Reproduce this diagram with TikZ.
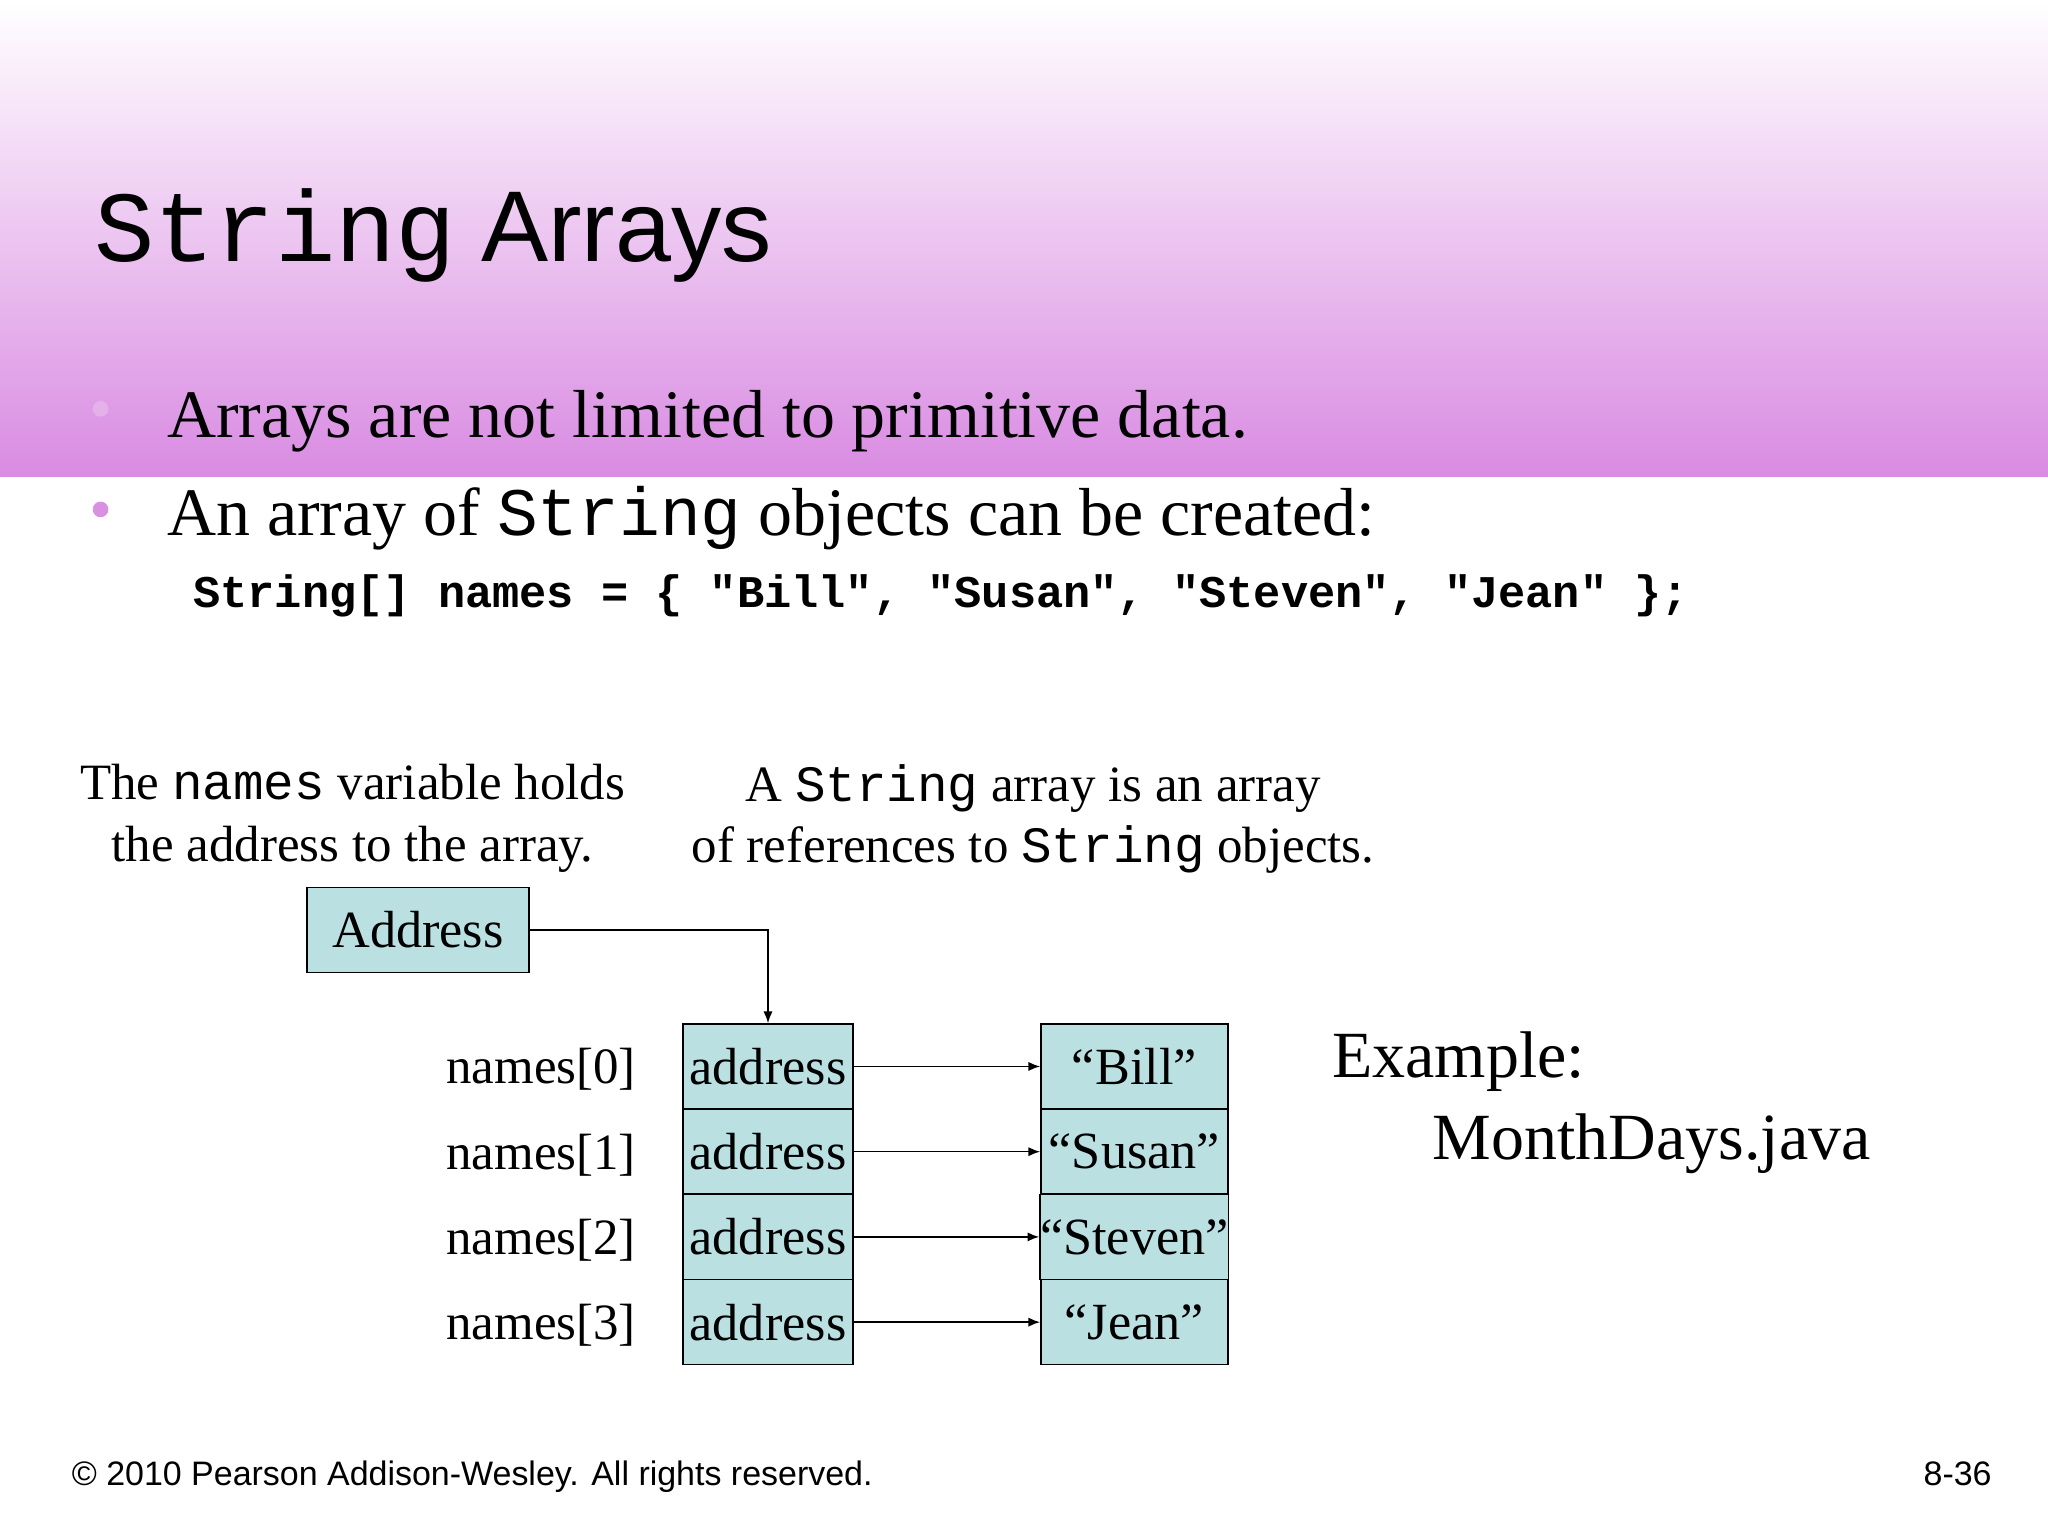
\documentclass[tikz,border=0pt]{standalone}
\usepackage{fontspec}
\setmainfont{Liberation Serif}
\setsansfont{Liberation Sans}
\setmonofont{Liberation Mono}
\definecolor{band}{HTML}{D98BE2}
\definecolor{cell}{HTML}{BBE0E2}
\definecolor{bul}{HTML}{D890E0}
\tikzset{
 txt/.style={inner sep=0,outer sep=0,anchor=base west},
 cellbox/.style={draw=black,fill=cell,line width=1.2pt,minimum width=130pt,minimum height=65pt,inner sep=0,font=\fontsize{40}{40}\selectfont},
 strbox/.style={cellbox,minimum width=143pt},
 arr/.style={-{Latex[length=9pt,width=7pt]},line width=1.2pt}
}
\usetikzlibrary{arrows.meta}
\begin{document}
\begin{tikzpicture}[x=1pt,y=-1pt]
\useasboundingbox (0,0) rectangle (1568,1176);
\fill[white] (0,0) rectangle (1568,1176);
\shade[top color=white,bottom color=band] (0,0) rectangle (1568,365);
\node[txt,font=\fontsize{77}{77}\selectfont] (title) at (72,200) {\texttt{String} \textsf{Arrays}};
\fill[bul!70] (77,313) circle (6);
\fill[bul] (77,390) circle (6);
\node[txt,font=\fontsize{52}{52}\selectfont] (b1) at (128,335) {Arrays are not limited to primitive data.};
\node[txt,font=\fontsize{52}{52}\selectfont] (b2) at (128,410) {An array of \texttt{String} objects can be created:};
\node[txt,font=\fontsize{34.7}{35}\selectfont\ttfamily\bfseries] (code) at (148,465) {String[] names = \{ "Bill", "Susan", "Steven", "Jean" \};};
\node[inner sep=0,align=center,font=\fontsize{39}{47}\selectfont,anchor=north] (c1) at (270,585) {The \texttt{names} variable holds\\the address to the array.};
\node[inner sep=0,align=center,font=\fontsize{39}{47}\selectfont,anchor=north] (c2) at (791,585) {A \texttt{String} array is an array\\of references to \texttt{String} objects.};
\node[cellbox,minimum width=170pt] (addr) at (320,712) {Address};
\foreach \i/\s in {0/“Bill”,1/“Susan”,2/“Steven”,3/“Jean”}{
 \node[cellbox] (a\i) at (588,{816.5+65.25*\i}) {\raisebox{-3pt}{address}};
 \node[strbox] (s\i) at (868.5,{816.5+65.25*\i}) {\raisebox{-3pt}{\s}};
 \node[inner sep=0,anchor=east,font=\fontsize{39}{39}\selectfont] (n\i) at (487,{819+65.25*\i}) {names[\i]};
 \draw[arr] (a\i.east) -- (s\i.west);
}
\draw[arr] (addr.east) -| (a0.north);
\node[txt,font=\fontsize{50.5}{50}\selectfont] (ex) at (1020,825) {Example:};
\node[txt,font=\fontsize{50.5}{50}\selectfont] (md) at (1097,888) {MonthDays.java};
\node[txt,font=\fontsize{26}{26}\selectfont\sffamily] (foot) at (55,1137) {© 2010 Pearson Addison-Wesley. All rights reserved.};
\node[inner sep=0,anchor=base east,font=\fontsize{26}{26}\selectfont\sffamily] (pg) at (1525,1137) {8-36};
\end{tikzpicture}
\end{document}
